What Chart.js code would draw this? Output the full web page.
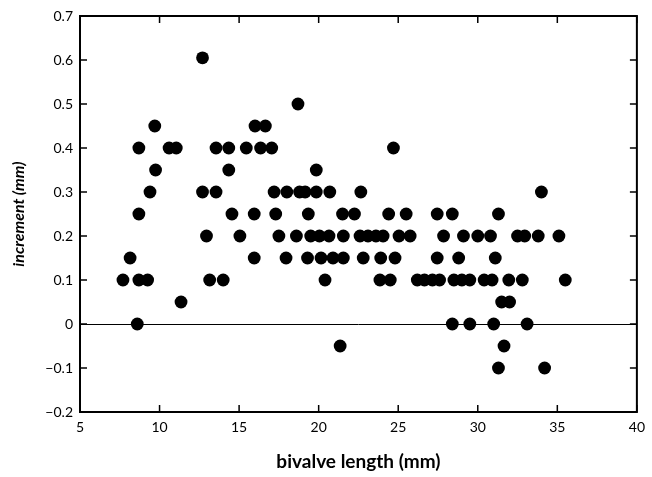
<!DOCTYPE html>
<html>
<head>
<meta charset="utf-8">
<script src="https://cdn.jsdelivr.net/npm/chart.js@4.4.0/dist/chart.umd.min.js"></script>
<style>
    html, body { margin: 0; padding: 0; background: #fff; }
    #wrap { width: 652px; height: 477px; position: relative; }
</style>
</head>
<body>
<div id="wrap"><canvas id="chart"></canvas></div>
<script>
// points, grouped by increment row
let rowIncrement = [0.605, 0.5, 0.45, 0.4, 0.35, 0.3, 0.25, 0.2, 0.15, 0.1, 0.05, 0, -0.05, -0.1];
let rowLengths = [
    [12.7],
    [18.7],
    [9.7, 16.0, 16.65],
    [8.7, 10.6, 11.05, 13.55, 14.35, 15.45, 16.35, 17.05, 24.7],
    [9.75, 14.35, 19.85],
    [9.4, 12.7, 13.55, 17.2, 18.0, 18.8, 19.15, 19.85, 20.7, 22.65, 34.0],
    [8.7, 14.55, 15.95, 17.3, 19.35, 21.5, 22.25, 24.4, 25.5, 27.45, 28.4, 31.3],
    [12.95, 15.05, 17.5, 18.6, 19.5, 20.05, 20.65, 21.55, 22.6, 23.1, 23.6, 24.05, 25.05, 25.75,
        27.85, 29.1, 30.0, 30.8, 32.5, 32.95, 33.8, 35.1],
    [8.15, 15.95, 17.95, 19.3, 20.15, 20.9, 21.55, 22.8, 23.9, 24.8, 27.45, 28.8, 31.1],
    [7.7, 8.7, 9.25, 13.15, 14.0, 20.4, 23.85, 24.5, 26.2, 26.65, 27.15, 27.6, 28.5, 29.0, 29.5,
        30.4, 30.9, 31.95, 32.8, 35.5],
    [11.35, 31.5, 32.0],
    [8.6, 28.4, 29.5, 31.0, 33.1],
    [21.35, 31.65],
    [31.3, 34.2]
];
let xTicks = [5, 10, 15, 20, 25, 30, 35, 40];
let yTicks = [-0.2, -0.1, 0, 0.1, 0.2, 0.3, 0.4, 0.5, 0.6, 0.7];

let points = [];
rowLengths.forEach((lengths, i) => {
    lengths.forEach(len => points.push({x: len, y: rowIncrement[i]}));
});

const FONT = '"Century Gothic", "Lato", "DejaVu Sans", sans-serif';

// closed frame, inward ticks and the zero line
const framePlugin = {
    id: 'frame',
    afterDatasetsDraw(chart) {
        const ctx = chart.ctx;
        const a = chart.chartArea;
        const xs = chart.scales.x, ys = chart.scales.y;
        ctx.save();
        ctx.strokeStyle = '#000';
        ctx.lineWidth = 1;
        const y0 = Math.round(ys.getPixelForValue(0)) + 0.5;
        ctx.beginPath();
        ctx.moveTo(a.left, y0);
        ctx.lineTo(a.right, y0);
        ctx.stroke();

        ctx.lineWidth = 2;
        ctx.strokeRect(a.left, a.top, a.right - a.left, a.bottom - a.top);
        ctx.lineWidth = 1.5;
        ctx.beginPath();
        xTicks.forEach(v => {
            const px = xs.getPixelForValue(v);
            ctx.moveTo(px, a.bottom);
            ctx.lineTo(px, a.bottom - 7);
            ctx.moveTo(px, a.top);
            ctx.lineTo(px, a.top + 7);
        });
        yTicks.forEach(v => {
            const py = ys.getPixelForValue(v);
            ctx.moveTo(a.left, py);
            ctx.lineTo(a.left + 7, py);
            ctx.moveTo(a.right, py);
            ctx.lineTo(a.right - 7, py);
        });
        ctx.stroke();
        ctx.restore();
    }
};

new Chart(document.getElementById('chart'), {
    type: 'scatter',
    data: {
        datasets: [{
            data: points,
            backgroundColor: '#000',
            borderWidth: 0,
            pointRadius: 6.4,
            pointHoverRadius: 6.4
        }]
    },
    options: {
        responsive: true,
        maintainAspectRatio: false,
        animation: false,
        events: [],
        layout: {padding: {top: 16, right: 10, left: 0, bottom: 0}},
        plugins: {legend: {display: false}, tooltip: {enabled: false}},
        scales: {
            x: {
                type: 'linear',
                min: 5,
                max: 40,
                afterBuildTicks: (scale) => { scale.ticks = xTicks.map(v => ({value: v})); },
                afterFit: (scale) => { scale.height = 65; },
                grid: {display: false, drawTicks: false},
                border: {display: false},
                ticks: {
                    color: '#000',
                    padding: 7,
                    font: {family: FONT, size: 14},
                    callback: (v) => String(v)
                },
                title: {
                    display: true,
                    text: 'bivalve length (mm)',
                    color: '#000',
                    font: {family: FONT, size: 19, weight: 'bold'},
                    padding: {top: 9}
                }
            },
            y: {
                type: 'linear',
                min: -0.2,
                max: 0.7,
                afterBuildTicks: (scale) => { scale.ticks = yTicks.map(v => ({value: v})); },
                afterFit: (scale) => { scale.width = 80; },
                grid: {display: false, drawTicks: false},
                border: {display: false},
                ticks: {
                    color: '#000',
                    padding: 7,
                    font: {family: FONT, size: 14},
                    callback: (v) => v === 0 ? '0' : (v < 0 ? '\u2212' : '') + Math.abs(v).toFixed(1)
                },
                title: {
                    display: true,
                    text: 'increment (mm)',
                    color: '#000',
                    font: {family: FONT, size: 16, weight: 'bold', style: 'italic'},
                    padding: {top: 9, bottom: 0}
                }
            }
        }
    },
    plugins: [framePlugin]
});
</script>
</body>
</html>
